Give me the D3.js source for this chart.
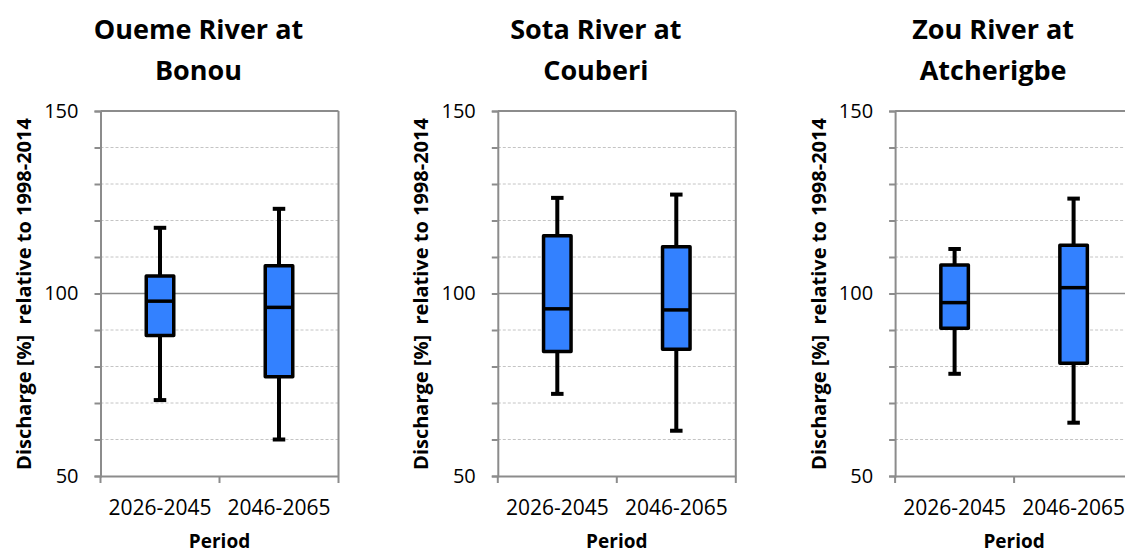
<!DOCTYPE html>
<html>
<head>
<meta charset="utf-8">
<script src="https://cdn.jsdelivr.net/npm/d3@7"></script>
<style>
  body { margin: 0; background: #fff; }
  text { font-family: "Open Sans", sans-serif; }
</style>
</head>
<body>
<script>

// data
const titles = [["Oueme River at", "Bonou"], ["Sota River at", "Couberi"], ["Zou River at", "Atcherigbe"]];
const periods = ["2026-2045", "2046-2065"];
const whiskerLow  = [[70.8, 60.0], [72.5, 62.4], [78.0, 64.6]];
const q1          = [[88.5, 77.2], [84.1, 84.7], [90.5, 80.9]];
const median      = [[97.9, 96.2], [95.8, 95.5], [97.5, 101.6]];
const q3          = [[104.8, 107.6], [115.8, 112.8], [107.8, 113.2]];
const whiskerHigh = [[118.0, 123.2], [126.2, 127.1], [112.2, 126.0]];
const majorTicks = [50, 100, 150];
const minorTicks = [60, 70, 80, 90, 110, 120, 130, 140];

const w = 1125, h = 554;
const plotTop = 111, plotH = 365, plotW = 238;
const firstLeft = 100.5, step = 397.3;
const gray = "#8c8c8c";

const svg = d3.select("body").append("svg")
    .attr("width", w)
    .attr("height", h);

const y = d3.scaleLinear().domain([50, 150]).range([plotH, 0]);
const x = d3.scaleBand().domain(periods).range([0, plotW]);

titles.forEach((t, i) => {
    const g = svg.append("g")
        .attr("transform", "translate(" + (firstLeft + i * step) + "," + plotTop + ")");

    // dashed minor grid
    g.selectAll(".minor").data(minorTicks).enter().append("line")
        .attr("x1", 0).attr("x2", plotW)
        .attr("y1", d => y(d)).attr("y2", d => y(d))
        .attr("stroke", "#c4c4c4")
        .attr("stroke-width", 1)
        .attr("stroke-dasharray", "3,2");

    // solid major grid
    g.selectAll(".major").data(majorTicks.slice(1)).enter().append("line")
        .attr("x1", 0).attr("x2", plotW)
        .attr("y1", d => y(d)).attr("y2", d => y(d))
        .attr("stroke", gray)
        .attr("stroke-width", d => d == 150 ? 2 : 1.5);

    // right border
    g.append("line")
        .attr("x1", plotW).attr("x2", plotW)
        .attr("y1", 0).attr("y2", plotH)
        .attr("stroke", gray).attr("stroke-width", 2);

    // y axis: minor ticks + labelled major ticks
    const yAx = g.append("g")
        .call(d3.axisLeft(y).tickValues(majorTicks.concat(minorTicks)).tickSize(6).tickPadding(16)
            .tickFormat(d => majorTicks.includes(d) ? d : ""));
    yAx.select(".domain").attr("stroke", gray).attr("stroke-width", 2);
    yAx.selectAll(".tick line").attr("stroke", gray).attr("stroke-width", 2);
    yAx.selectAll("text").attr("font-size", 20).attr("fill", "#000")
        .style("font-family", "'Open Sans', sans-serif");

    // x axis
    const xAx = g.append("g")
        .attr("transform", "translate(0," + plotH + ")")
        .call(d3.axisBottom(x).tickSize(0).tickPadding(24).tickSizeOuter(0));
    xAx.select(".domain").attr("stroke", gray).attr("stroke-width", 2);
    xAx.selectAll("text").attr("font-size", 21).attr("fill", "#000")
        .style("font-family", "'Open Sans', sans-serif");
    xAx.selectAll(".sep").data([0, x.step(), plotW]).enter().append("line")
        .attr("x1", d => d).attr("x2", d => d)
        .attr("y1", 0).attr("y2", 7)
        .attr("stroke", gray).attr("stroke-width", 2);

    // boxes
    const boxW = 27.5, capW = 12.5;
    periods.forEach((p, j) => {
        const cx = x(p) + x.bandwidth() / 2;
        g.append("line")
            .attr("x1", cx).attr("x2", cx)
            .attr("y1", y(whiskerHigh[i][j])).attr("y2", y(whiskerLow[i][j]))
            .attr("stroke", "#000").attr("stroke-width", 4);
        [whiskerHigh[i][j], whiskerLow[i][j]].forEach(v => {
            g.append("line")
                .attr("x1", cx - capW / 2).attr("x2", cx + capW / 2)
                .attr("y1", y(v)).attr("y2", y(v))
                .attr("stroke", "#000").attr("stroke-width", 4);
        });
        g.append("rect")
            .attr("x", cx - boxW / 2)
            .attr("y", y(q3[i][j]))
            .attr("width", boxW)
            .attr("height", y(q1[i][j]) - y(q3[i][j]))
            .attr("fill", "#3381ff")
            .attr("stroke", "#000").attr("stroke-width", 3.5)
            .attr("stroke-linejoin", "round");
        g.append("line")
            .attr("x1", cx - boxW / 2).attr("x2", cx + boxW / 2)
            .attr("y1", y(median[i][j])).attr("y2", y(median[i][j]))
            .attr("stroke", "#000").attr("stroke-width", 3.5);
    });

    // title
    const tt = g.append("text")
        .attr("text-anchor", "middle")
        .attr("font-weight", "bold")
        .attr("font-size", 27)
        .attr("x", plotW / 2 - 21)
        .attr("y", 39 - plotTop);
    tt.selectAll("tspan").data(t).enter().append("tspan")
        .attr("x", plotW / 2 - 21)
        .attr("dy", (d, k) => k == 0 ? 0 : 41)
        .text(d => d);

    // axis titles
    g.append("text")
        .attr("transform", "translate(-69.5," + (y(100) + 0.5) + ") rotate(-90)")
        .attr("text-anchor", "middle")
        .attr("font-weight", "bold")
        .attr("font-size", 20)
        .text("Discharge [%]\u00a0\u00a0relative to 1998-2014");

    g.append("text")
        .attr("x", plotW / 2)
        .attr("y", 548 - plotTop)
        .attr("text-anchor", "middle")
        .attr("font-weight", "bold")
        .attr("font-size", 19)
        .text("Period");
});

</script>
</body>
</html>
